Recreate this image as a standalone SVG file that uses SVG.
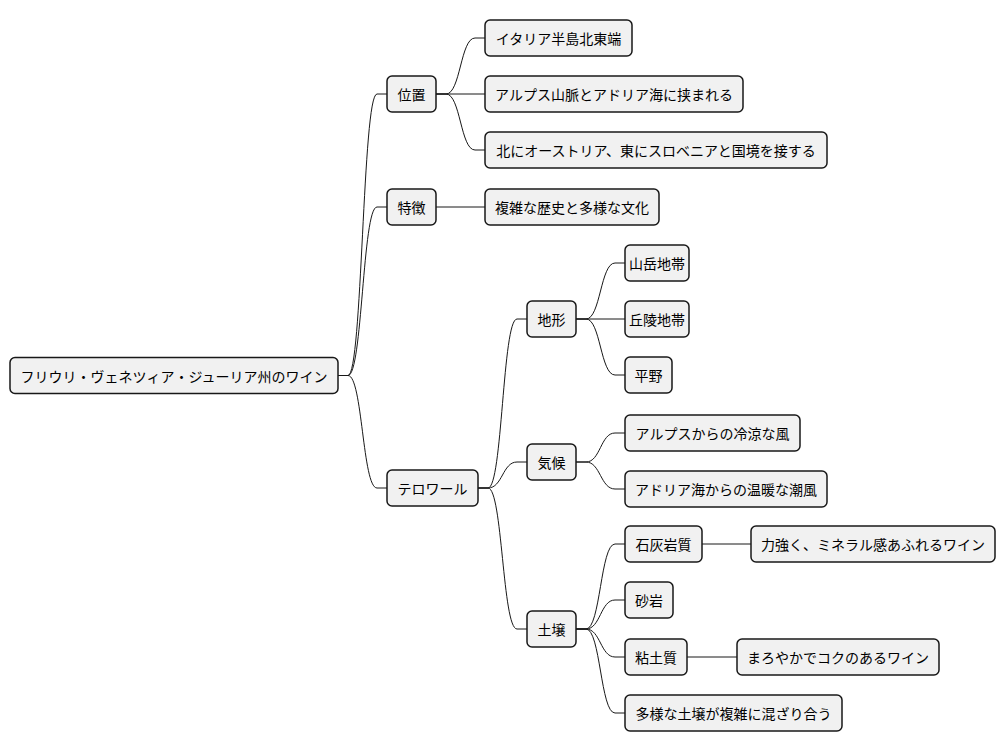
<svg xmlns="http://www.w3.org/2000/svg" width="1006" height="752" viewBox="0 0 1006 752">
<style>
.n rect{fill:#F1F1F1;stroke:#181818;stroke-width:1.5}
.n text{font-family:"Noto Sans CJK JP","Noto Sans",sans-serif;font-size:14px;fill:#000;text-anchor:middle;dominant-baseline:central}
#edges path{fill:none;stroke:#181818;stroke-width:1}
</style>
<rect width="1006" height="752" fill="#FFFFFF"/>
<g id="edges">
<path d="M338,375.5 L348,375.5 C362.5,375.5 362.5,94 377,94 L387,94"/>
<path d="M338,375.5 L348,375.5 C362.5,375.5 362.5,207 377,207 L387,207"/>
<path d="M338,375.5 L348,375.5 C362.5,375.5 362.5,488 377,488 L387,488"/>
<path d="M436,94 L446,94 C460.5,94 460.5,38 475,38 L485,38"/>
<path d="M436,94 L485,94"/>
<path d="M436,94 L446,94 C460.5,94 460.5,150 475,150 L485,150"/>
<path d="M436,207 L485,207"/>
<path d="M478,488 L488,488 C502.5,488 502.5,319 517,319 L527,319"/>
<path d="M478,488 L488,488 C502.5,488 502.5,462 517,462 L527,462"/>
<path d="M478,488 L488,488 C502.5,488 502.5,629 517,629 L527,629"/>
<path d="M576,319 L586,319 C600.5,319 600.5,263 615,263 L625,263"/>
<path d="M576,319 L625,319"/>
<path d="M576,319 L586,319 C600.5,319 600.5,375 615,375 L625,375"/>
<path d="M576,462 L586,462 C600.5,462 600.5,433 615,433 L625,433"/>
<path d="M576,462 L586,462 C600.5,462 600.5,489 615,489 L625,489"/>
<path d="M576,629 L586,629 C600.5,629 600.5,544 615,544 L625,544"/>
<path d="M576,629 L586,629 C600.5,629 600.5,600 615,600 L625,600"/>
<path d="M576,629 L586,629 C600.5,629 600.5,657 615,657 L625,657"/>
<path d="M576,629 L586,629 C600.5,629 600.5,713 615,713 L625,713"/>
<path d="M702,544 L751,544"/>
<path d="M687,657 L737,657"/>
</g>
<g id="root" class="n"><rect x="10" y="357.5" width="328" height="36" rx="5"/><text x="174" y="375.5">フリウリ・ヴェネツィア・ジューリア州のワイン</text></g>
<g id="ichi" class="n"><rect x="387" y="76" width="49" height="36" rx="5"/><text x="411.5" y="94">位置</text></g>
<g id="tokucho" class="n"><rect x="387" y="189" width="49" height="36" rx="5"/><text x="411.5" y="207">特徴</text></g>
<g id="terroir" class="n"><rect x="387" y="470" width="91" height="36" rx="5"/><text x="432.5" y="488">テロワール</text></g>
<g id="italy" class="n"><rect x="485" y="20" width="147" height="36" rx="5"/><text x="558.5" y="38">イタリア半島北東端</text></g>
<g id="alps" class="n"><rect x="485" y="76" width="258" height="36" rx="5"/><text x="614" y="94">アルプス山脈とアドリア海に挟まれる</text></g>
<g id="border" class="n"><rect x="485" y="132" width="342" height="36" rx="5"/><text x="656" y="150">北にオーストリア、東にスロベニアと国境を接する</text></g>
<g id="history" class="n"><rect x="485" y="189" width="174" height="36" rx="5"/><text x="572" y="207">複雑な歴史と多様な文化</text></g>
<g id="chikei" class="n"><rect x="527" y="301" width="49" height="36" rx="5"/><text x="551.5" y="319">地形</text></g>
<g id="kiko" class="n"><rect x="527" y="444" width="49" height="36" rx="5"/><text x="551.5" y="462">気候</text></g>
<g id="dojo" class="n"><rect x="527" y="611" width="49" height="36" rx="5"/><text x="551.5" y="629">土壌</text></g>
<g id="sangaku" class="n"><rect x="625" y="245" width="64" height="36" rx="5"/><text x="657" y="263">山岳地帯</text></g>
<g id="kyuryo" class="n"><rect x="625" y="301" width="64" height="36" rx="5"/><text x="657" y="319">丘陵地帯</text></g>
<g id="heiya" class="n"><rect x="625" y="357" width="47" height="36" rx="5"/><text x="648.5" y="375">平野</text></g>
<g id="coolwind" class="n"><rect x="625" y="415" width="175" height="36" rx="5"/><text x="712.5" y="433">アルプスからの冷涼な風</text></g>
<g id="seabreeze" class="n"><rect x="625" y="471" width="202" height="36" rx="5"/><text x="726" y="489">アドリア海からの温暖な潮風</text></g>
<g id="limestone" class="n"><rect x="625" y="526" width="77" height="36" rx="5"/><text x="663.5" y="544">石灰岩質</text></g>
<g id="mineral" class="n"><rect x="751" y="526" width="244" height="36" rx="5"/><text x="873" y="544">力強く、ミネラル感あふれるワイン</text></g>
<g id="sandstone" class="n"><rect x="625" y="582" width="48" height="36" rx="5"/><text x="649" y="600">砂岩</text></g>
<g id="clay" class="n"><rect x="625" y="639" width="62" height="36" rx="5"/><text x="656" y="657">粘土質</text></g>
<g id="mellow" class="n"><rect x="737" y="639" width="202" height="36" rx="5"/><text x="838" y="657">まろやかでコクのあるワイン</text></g>
<g id="mixed" class="n"><rect x="625" y="695" width="217" height="36" rx="5"/><text x="733.5" y="713">多様な土壌が複雑に混ざり合う</text></g>
</svg>
